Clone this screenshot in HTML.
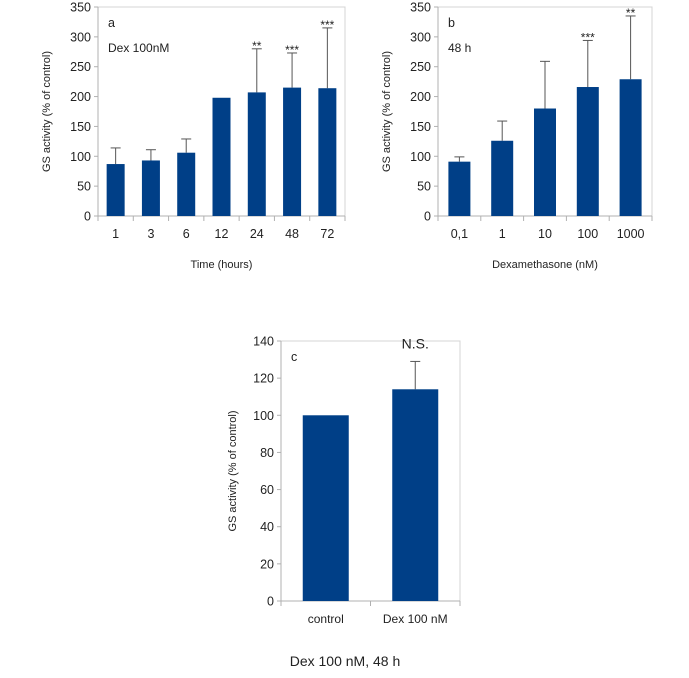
<!DOCTYPE html>
<html><head><meta charset="utf-8"><style>
body{margin:0;background:#fff;font-family:"Liberation Sans",sans-serif}
svg text{font-family:"Liberation Sans",sans-serif;fill:#222}
</style></head><body>
<svg id="s" width="689" height="673" viewBox="0 0 689 673"></svg>
<script>
const aCats=["1","3","6","12","24","48","72"];
const aVals=[87,93,106,198,207,215,214];
const aErr=[27,18,23,0,73,58,101];
const aStars=["","","","","**","***","***"];
const aTicks=[0,50,100,150,200,250,300,350];
const bCats=["0,1","1","10","100","1000"];
const bVals=[91,126,180,216,229];
const bErr=[8,33,79,78,106];
const bStars=["","","","***","**"];
const bTicks=[0,50,100,150,200,250,300,350];
const cCats=["control","Dex 100 nM"];
const cVals=[100,114];
const cErr=[0,15];
const cStars=["","N.S."];
const cTicks=[0,20,40,60,80,100,120,140];
const NS="http://www.w3.org/2000/svg";
const svg=document.getElementById('s');
function el(t,a,txt,parent){const e=document.createElementNS(NS,t);for(const k in a)e.setAttribute(k,a[k]);if(txt!=null)e.textContent=txt;(parent||svg).appendChild(e);return e;}
function chart(o){
  const g=el('g',{});
  
  
  const max=o.ticks[o.ticks.length-1];
  const y=v=>o.y0-(v/max)*(o.y0-o.y1);
  const cw=(o.x1-o.x0)/o.cats.length;
  const x=i=>o.x0+cw*(i+0.5);
  const fr=el('rect',{x:o.x0,y:o.y1,width:o.x1-o.x0,height:o.y0-o.y1,fill:'none',stroke:'#d4d4d4','stroke-width':1},null,g);
  
  
  el('line',{x1:o.x0,y1:o.y1,x2:o.x0,y2:o.y0,stroke:'#b0b0b0'},null,g);
  el('line',{x1:o.x0-4,y1:o.y0,x2:o.x1,y2:o.y0,stroke:'#b0b0b0'},null,g);
  o.ticks.forEach(t=>{
    el('line',{x1:o.x0-4,y1:y(t),x2:o.x0,y2:y(t),stroke:'#b0b0b0'},null,g);
    const tl=el('text',{x:o.x0-7,y:y(t)+4.5,'text-anchor':'end','font-size':12.5},String(t),g);
    
    
  });
  for(let i=0;i<=o.cats.length;i++)el('line',{x1:o.x0+cw*i,y1:o.y0,x2:o.x0+cw*i,y2:o.y0+5,stroke:'#b0b0b0'},null,g);
  o.cats.forEach((c,i)=>{
    const v=o.vals[i],e=o.err[i];
    if(e>0){el('line',{x1:x(i),y1:y(v),x2:x(i),y2:y(v+e),stroke:'#555'},null,g);
      el('line',{x1:x(i)-5,y1:y(v+e),x2:x(i)+5,y2:y(v+e),stroke:'#555'},null,g);}
    const b=el('rect',{x:x(i)-o.bw/2,y:y(v),width:o.bw,height:y(0)-y(v),fill:'#003f87'},null,g);
    
    
    const xl=el('text',{x:x(i),y:o.y0+o.xlOff,'text-anchor':'middle','font-size':o.xfs},c,g);
    
    
    if(o.stars[i]){const s=el('text',{x:x(i),y:y(v+e)-3+(o.starDy||0),'text-anchor':'middle','font-size':o.starFs||12},o.stars[i],g);
      
      }
  });
  const yt=el('text',{transform:`translate(${o.ytX},${(o.y0+o.y1)/2}) rotate(-90)`,'text-anchor':'middle','font-size':11},'GS activity (% of control)',g);
  
  
  if(o.xt){const xt=el('text',{x:(o.x0+o.x1)/2,y:o.y0+52,'text-anchor':'middle','font-size':11},o.xt,g);
    
    }
  const p=el('text',{x:o.x0+10,y:o.y1+20,'font-size':12.5},o.panel,g);
  
  
  if(o.note){const n=el('text',{x:o.x0+10,y:o.y1+45,'font-size':12},o.note,g);
    
    }
}
chart({name:'chart-a-time',cats:aCats,vals:aVals,err:aErr,stars:aStars,ticks:aTicks,x0:98,x1:345,y0:216,y1:7,bw:18,ytX:50,xt:'Time (hours)',panel:'a',note:'Dex 100nM',xlOff:22,xfs:12.5,starDy:4});
chart({name:'chart-b-dose',cats:bCats,vals:bVals,err:bErr,stars:bStars,ticks:bTicks,x0:438,x1:652,y0:216,y1:7,bw:22,ytX:390,xt:'Dexamethasone (nM)',panel:'b',note:'48 h',xlOff:22,xfs:12.5,starDy:4});
chart({name:'chart-c-control',cats:cCats,vals:cVals,err:cErr,stars:cStars,ticks:cTicks,x0:281,x1:460,y0:601,y1:341,bw:46,ytX:236,panel:'c',xlOff:22,xfs:12,starFs:14,starDy:-10});
const ft=el('text',{x:345,y:666,'text-anchor':'middle','font-size':14},'Dex 100 nM, 48 h');


</script>
</body></html>
